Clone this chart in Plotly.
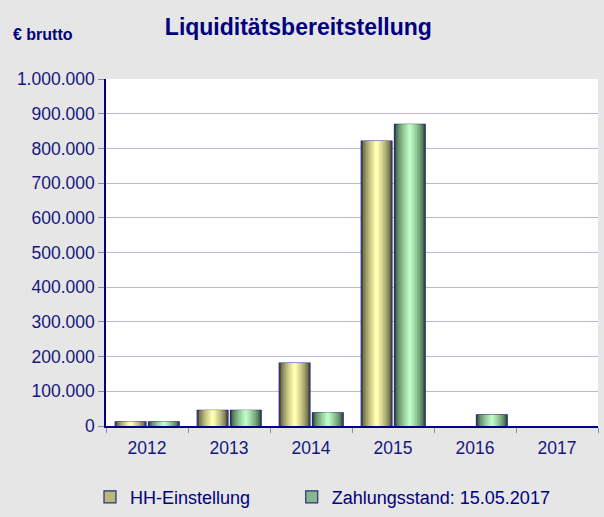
import plotly.graph_objects as go

years = ["2012", "2013", "2014", "2015", "2016", "2017"]
hh_einstellung = [12000, 45000, 181000, 821000, None, None]
zahlungsstand = [12000, 45000, 38000, 869000, 32000, None]
series_names = ["HH-Einstellung", "Zahlungsstand: 15.05.2017"]
y_ticks = [0, 100000, 200000, 300000, 400000, 500000, 600000, 700000, 800000, 900000, 1000000]

NAVY = "#000080"
TICK_NAVY = "#16167e"

def lerp(c1, c2, t):
    return "#%02x%02x%02x" % tuple(int(round(a + (b - a) * t)) for a, b in zip(c1, c2))

fig = go.Figure()

def add_series(values, name, center_off, width, dark, light, legend_id):
    n = 9
    for i in range(n):
        w = width * (1 - i / n)
        t = (i / (n - 1)) ** 0.7
        col = lerp(dark, light, t)
        fig.add_trace(go.Bar(
            x=years, y=values, name=name,
            offset=center_off - w / 2, width=w,
            marker=dict(color=col,
                        line=dict(color="#2a2a80" if i == 0 else col, width=1.2 if i == 0 else 0)),
            showlegend=False, legendgroup=name, hoverinfo="skip",
        ))
    # legend proxy (no data drawn)
    fig.add_trace(go.Bar(
        x=years, y=[None] * len(years), name=name, legendgroup=name, legend=legend_id,
        marker=dict(color=lerp(dark, light, 0.6), line=dict(color="#2a2a80", width=1.2)),
        showlegend=True, hoverinfo="skip",
    ))

add_series(hh_einstellung, series_names[0], -0.20, 0.375, (80, 80, 50), (255, 255, 175), "legend")
add_series(zahlungsstand, series_names[1], 0.205, 0.375, (50, 85, 55), (190, 250, 195), "legend2")

legend_common = dict(orientation="h", xref="container", xanchor="left",
                     y=-0.205, yanchor="middle",
                     font=dict(size=18, color=NAVY), bgcolor="rgba(0,0,0,0)")

fig.update_layout(
    width=604, height=517,
    paper_bgcolor="#e6e6e6", plot_bgcolor="#ffffff",
    barmode="overlay",
    separators=",.",
    margin=dict(l=106, r=6, t=79, b=91, autoexpand=False),
    font=dict(family="Liberation Sans, Arial", color=NAVY, size=15),
    title=dict(text="<b>Liquiditätsbereitstellung</b>", x=0.494, xanchor="center",
               y=0.948, yanchor="middle", font=dict(size=23, color=NAVY)),
    showlegend=True,
    legend=dict(x=0.149, **legend_common),
    legend2=dict(x=0.483, **legend_common),
    annotations=[dict(text="<b>€ brutto</b>", xref="paper", yref="paper",
                      x=-0.193, xanchor="left", y=1.127, yanchor="middle",
                      showarrow=False, font=dict(size=16, color=NAVY))],
)

fig.update_xaxes(
    type="category", categoryorder="array", categoryarray=years,
    showline=True, linecolor=NAVY, linewidth=1.5,
    ticks="outside", tickson="boundaries", ticklen=5, tickcolor="#8888aa",
    tickfont=dict(size=17.5, color=TICK_NAVY), showgrid=False, ticklabelstandoff=5,
)
fig.update_yaxes(
    range=[0, 1000000], tickvals=y_ticks, tickformat=",d",
    showline=True, linecolor=NAVY, linewidth=1.5,
    ticks="outside", ticklen=6, tickcolor="#8888aa",
    gridcolor="#b8b8e0", gridwidth=1,
    tickfont=dict(size=17.5, color=TICK_NAVY),
)

fig.write_html("out.html", config={"displayModeBar": False},
               post_script="document.body.style.margin='0';document.body.style.overflow='hidden';")
